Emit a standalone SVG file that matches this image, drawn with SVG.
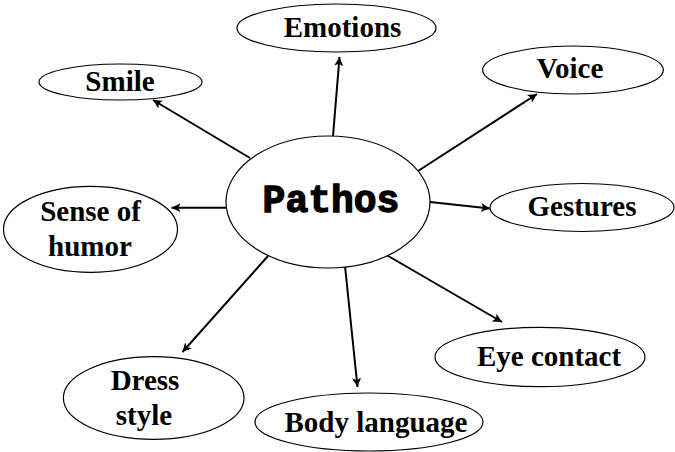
<svg xmlns="http://www.w3.org/2000/svg" width="675" height="452" viewBox="0 0 675 452">
<defs>
<style>
.n ellipse{fill:#fff;stroke:#000;stroke-width:1.2}
.t{font-family:"Liberation Serif","Times New Roman",serif;font-weight:bold;font-size:29px;fill:#000;text-anchor:middle}
.c line{stroke:#000;stroke-width:2;marker-end:url(#ah)}
</style>
<marker id="ah" viewBox="0 0 10 10" refX="10" refY="5" markerWidth="4.5" markerHeight="4.5" orient="auto" markerUnits="strokeWidth">
<path d="M0,0 L10,5 L0,10 L2.5,5 Z" fill="#000"/>
</marker>
</defs>
<rect width="675" height="452" fill="#fff"/>
<g id="connectors" class="c">
<line x1="250" y1="158" x2="153" y2="100"/>
<line x1="333" y1="136" x2="339.5" y2="57"/>
<line x1="418" y1="171" x2="537" y2="94"/>
<line x1="430" y1="202" x2="490" y2="208.5"/>
<line x1="226" y1="207.7" x2="171.5" y2="207.7"/>
<line x1="268" y1="256" x2="182.5" y2="352"/>
<line x1="345" y1="266" x2="357.5" y2="387"/>
<line x1="386.5" y1="255" x2="502" y2="322"/>
</g>
<g id="pathos" class="n">
<ellipse cx="328" cy="202" rx="102" ry="66"/>
<text x="331" y="212" style="font-family:'Liberation Mono','Courier New',monospace;font-weight:bold;font-size:38px;text-anchor:middle;stroke:#000;stroke-width:1.3">Pathos</text>
</g>
<g id="emotions" class="n">
<ellipse cx="336.5" cy="28" rx="99.5" ry="24"/>
<text class="t" x="342.5" y="37">Emotions</text>
</g>
<g id="smile" class="n">
<ellipse cx="120.5" cy="82" rx="81.5" ry="18"/>
<text class="t" x="120" y="90.7">Smile</text>
</g>
<g id="voice" class="n">
<ellipse cx="573" cy="70" rx="90.3" ry="24"/>
<text class="t" x="570" y="78.3">Voice</text>
</g>
<g id="gestures" class="n">
<ellipse cx="582" cy="207.5" rx="92" ry="24"/>
<text class="t" x="582" y="216">Gestures</text>
</g>
<g id="sense-of-humor" class="n">
<ellipse cx="90.5" cy="229.3" rx="87" ry="43"/>
<text class="t" x="90.5" y="220.7">Sense of</text>
<text class="t" x="90" y="256">humor</text>
</g>
<g id="dress-style" class="n">
<ellipse cx="153.7" cy="398" rx="90.3" ry="41.3"/>
<text class="t" x="145" y="390">Dress</text>
<text class="t" x="144" y="425">style</text>
</g>
<g id="body-language" class="n">
<ellipse cx="369" cy="422" rx="114" ry="29"/>
<text class="t" x="376" y="431.7">Body language</text>
</g>
<g id="eye-contact" class="n">
<ellipse cx="540" cy="357" rx="105" ry="29.7"/>
<text class="t" x="549" y="366">Eye contact</text>
</g>
</svg>
